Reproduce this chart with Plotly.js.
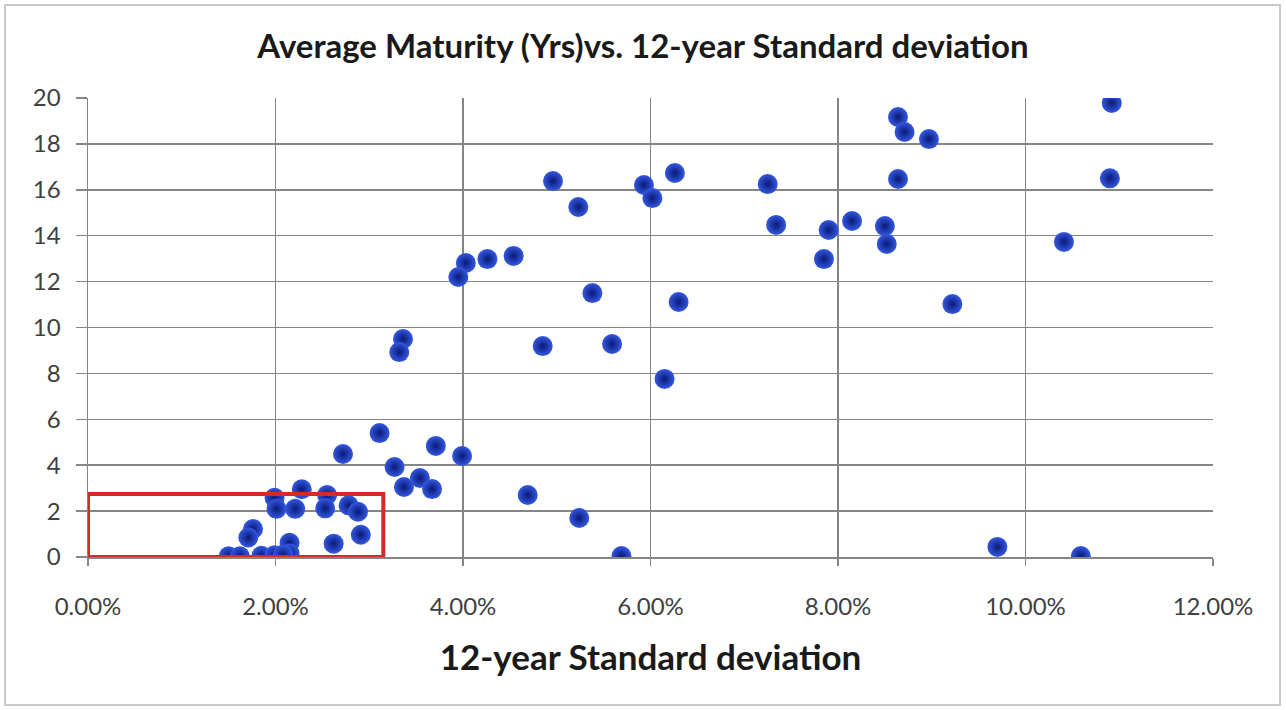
<!DOCTYPE html>
<html>
<head>
<meta charset="utf-8">
<script src="https://cdn.plot.ly/plotly-3.0.1.min.js"></script>
<style>html,body{margin:0;padding:0;background:#fff;}#chart{width:1286px;height:710px;}</style>
</head>
<body>
<div id="chart"></div>
<script>
// 12-year standard deviation (%)
const stdDev = [10.92,10.90,10.41,9.22,9.70,10.59,8.64,8.71,8.97,8.64,8.50,8.52,8.15,7.90,7.85,7.25,7.34,6.26,6.30,6.15,5.93,6.02,4.96,5.23,5.38,5.59,4.85,4.54,4.26,4.03,3.95,3.36,3.32,3.11,3.71,3.99,3.27,3.54,3.37,3.67,4.69,5.24,5.69,2.72,2.28,1.99,2.55,2.01,2.21,2.53,2.78,2.88,2.91,2.62,1.76,1.71,2.15,2.15,1.50,1.62,1.85,1.99,2.08];
// Average maturity (years)
const avgMaturity = [19.78,16.50,13.73,11.02,0.44,0.04,19.17,18.52,18.21,16.47,14.42,13.64,14.64,14.25,12.98,16.25,14.47,16.73,11.11,7.76,16.21,15.64,16.38,15.25,11.50,9.28,9.19,13.12,12.98,12.81,12.20,9.50,8.93,5.40,4.84,4.40,3.92,3.44,3.05,2.96,2.70,1.70,0.04,4.49,2.95,2.58,2.70,2.10,2.10,2.12,2.25,1.97,0.97,0.58,1.22,0.85,0.62,0.15,0.03,0.03,0.05,0.08,0.10];
const xTicks = [0,2,4,6,8,10,12];
const yTicks = [0,2,4,6,8,10,12,14,16,18,20];
// highlighted region (red box)
const boxX = [0, 3.15];
const boxY = [0, 2.75];

const font = "Lato, 'Open Sans', 'DejaVu Sans', sans-serif";

const trace = {
  x: stdDev, y: avgMaturity, type: 'scatter', mode: 'markers',
  marker: {size: 20, color: '#3458e0', gradient: {type: 'radial', color: '#091a78'}, line: {width: 0}},
  hoverinfo: 'x+y'
};

const layout = {
  width: 1286, height: 710,
  paper_bgcolor: '#ffffff', plot_bgcolor: '#ffffff',
  margin: {l: 88, r: 73, t: 98, b: 153},
  showlegend: false,
  title: {text: '<b>Average Maturity (Yrs)vs. 12-year Standard deviation</b>', x: 0.5, xanchor: 'center', y: 0.935, yanchor: 'middle', font: {family: font, size: 33, color: '#1a1a1a'}},
  xaxis: {
    range: [0, 12], tickvals: xTicks, ticktext: xTicks.map(v => v.toFixed(2) + '%'),
    showgrid: true, gridcolor: '#858585', gridwidth: 1.5, zeroline: false,
    ticks: 'outside', ticklen: 7, tickcolor: '#858585', tickwidth: 1.5,
    ticklabelstandoff: 21,
    showline: true, linecolor: '#858585', linewidth: 1.5,
    tickfont: {family: font, size: 24, color: '#404040'},
    title: {text: '<b>12-year Standard deviation</b>', font: {family: font, size: 35, color: '#1a1a1a'}, standoff: 26}
  },
  yaxis: {
    range: [0, 20], tickvals: yTicks,
    showgrid: true, gridcolor: '#858585', gridwidth: 1.5, zeroline: false,
    ticks: 'outside', ticklen: 11, tickcolor: '#858585', tickwidth: 1.5,
    ticklabelstandoff: 10,
    showline: true, linecolor: '#858585', linewidth: 1.5,
    tickfont: {family: font, size: 24, color: '#404040'}
  },
  shapes: [
    {type: 'rect', xref: 'x', yref: 'y', x0: boxX[0], x1: boxX[1], y0: boxY[0], y1: boxY[1], line: {color: '#d42a2a', width: 4}, layer: 'above'},
    {type: 'rect', xref: 'paper', yref: 'paper', x0: -83/1125, x1: 1280/1125 - 88/1125, y0: -148/459, y1: 1 + 93/459, line: {color: '#c8c8c8', width: 2}, fillcolor: 'rgba(0,0,0,0)', layer: 'below'}
  ]
};

Plotly.newPlot('chart', [trace], layout, {displayModeBar: false, staticPlot: true});
</script>
</body>
</html>
